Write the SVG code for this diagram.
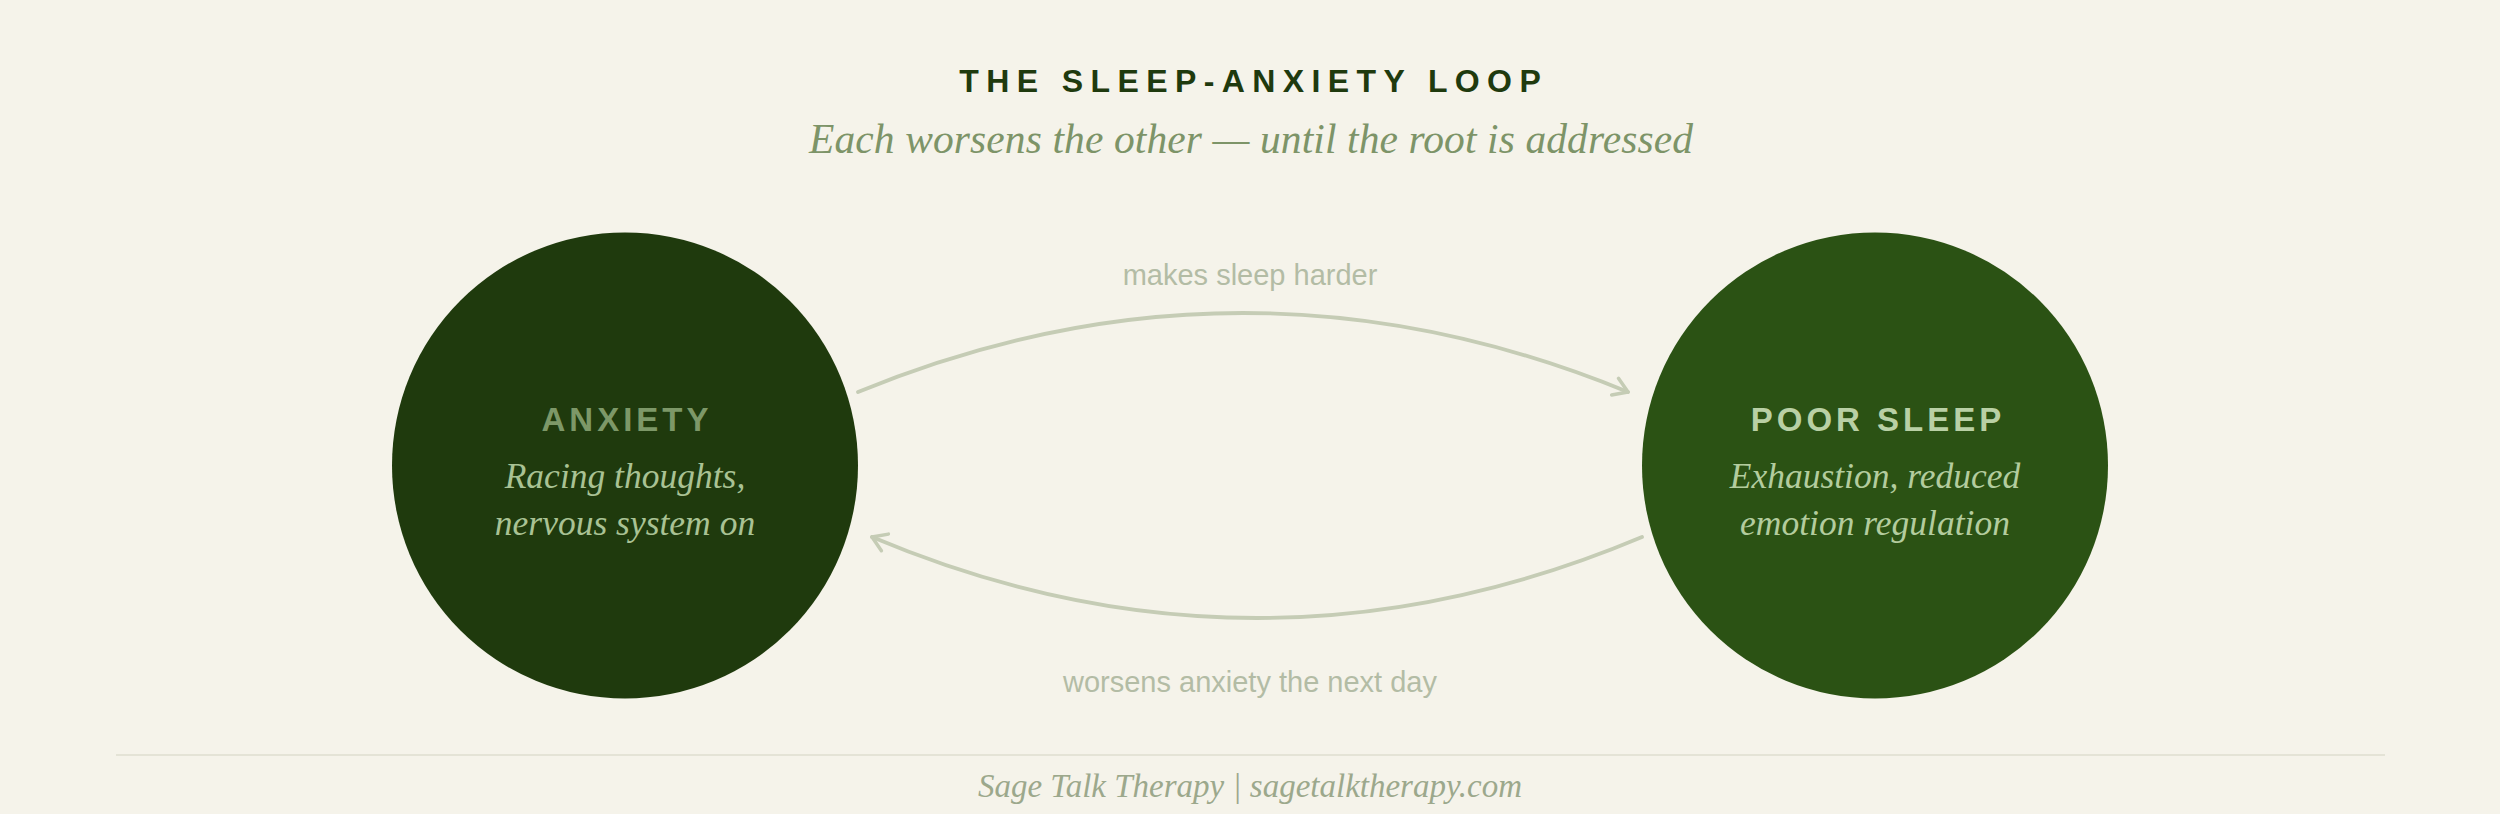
<svg xmlns="http://www.w3.org/2000/svg" width="2500" height="814" viewBox="0 0 2500 814">
  <defs>
    <style>
      .title { font-family: "Liberation Sans", Arial, sans-serif; font-weight: bold; font-size: 32px; letter-spacing: 7.4px; fill: #1f3a0e; }
      .subtitle { font-family: "Liberation Serif", "Times New Roman", serif; font-style: italic; font-size: 41.5px; fill: #7d9468; }
      .node-title { font-family: "Liberation Sans", Arial, sans-serif; font-weight: bold; font-size: 33px; letter-spacing: 4px; }
      .node-desc { font-family: "Liberation Serif", "Times New Roman", serif; font-style: italic; font-size: 35.5px; }
      .edge-label { font-family: "Liberation Sans", Arial, sans-serif; font-size: 29px; fill: #b3bca5; }
      .edge { fill: none; stroke: #c5ccb5; stroke-width: 3.8; stroke-linecap: round; }
      .footer { font-family: "Liberation Serif", "Times New Roman", serif; font-style: italic; font-size: 33px; fill: #9ca88c; }
    </style>
    <marker id="chev" markerUnits="userSpaceOnUse" markerWidth="30" markerHeight="30" refX="0" refY="0" viewBox="-20 -15 25 30" orient="auto" overflow="visible">
      <path d="M -14 -9 L 0 0 L -14 9" fill="none" stroke="#c5ccb5" stroke-width="3.5" stroke-linecap="round" stroke-linejoin="round"/>
    </marker>
  </defs>

  <rect x="0" y="0" width="2500" height="814" fill="#f5f3ea"/>

  <g id="header">
    <text class="title" x="1253.7" y="92" text-anchor="middle">THE SLEEP-ANXIETY LOOP</text>
    <text class="subtitle" x="1251" y="153" text-anchor="middle" textLength="884" lengthAdjust="spacing">Each worsens the other — until the root is addressed</text>
  </g>

  <g id="connectors">
    <path class="edge" d="M 858 392 Q 1243 234 1628 392" marker-end="url(#chev)"/>
    <path class="edge" d="M 1642 537 Q 1257 699 872 537" marker-end="url(#chev)"/>
    <text class="edge-label" x="1250" y="285" text-anchor="middle">makes sleep harder</text>
    <text class="edge-label" x="1250" y="692" text-anchor="middle">worsens anxiety the next day</text>
  </g>

  <g id="node-anxiety">
    <circle cx="625" cy="465.5" r="233" fill="#1f3a0d"/>
    <text class="node-title" x="627" y="431" text-anchor="middle" fill="#7d9868">ANXIETY</text>
    <text class="node-desc" x="625" y="488" text-anchor="middle" fill="#a9c294">Racing thoughts,</text>
    <text class="node-desc" x="625" y="535" text-anchor="middle" fill="#a9c294">nervous system on</text>
  </g>

  <g id="node-poor-sleep">
    <circle cx="1875" cy="465.5" r="233" fill="#2b5214"/>
    <text class="node-title" x="1878" y="431" text-anchor="middle" fill="#b9d0a5">POOR SLEEP</text>
    <text class="node-desc" x="1875" y="488" text-anchor="middle" fill="#b3cc9e">Exhaustion, reduced</text>
    <text class="node-desc" x="1875" y="535" text-anchor="middle" fill="#b3cc9e">emotion regulation</text>
  </g>

  <g id="footer">
    <line x1="116" y1="755" x2="2385" y2="755" stroke="#e4e3d6" stroke-width="2"/>
    <text class="footer" x="1250" y="797" text-anchor="middle">Sage Talk Therapy | sagetalktherapy.com</text>
  </g>
</svg>
